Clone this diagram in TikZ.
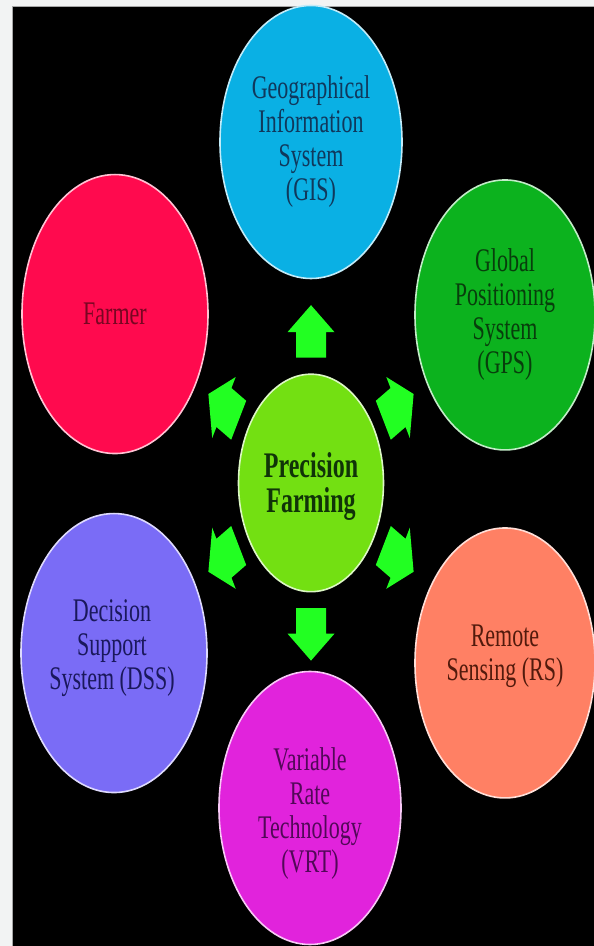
\documentclass[tikz,border=0pt]{standalone}
\usepackage{fontspec}
\setmainfont{Liberation Serif}
\usetikzlibrary{calc}
\definecolor{gisC}{RGB}{10,176,228}
\definecolor{gisT}{RGB}{16,56,92}
\definecolor{gpsC}{RGB}{12,178,30}
\definecolor{gpsT}{RGB}{8,62,12}
\definecolor{farC}{RGB}{255,10,78}
\definecolor{farT}{RGB}{120,6,34}
\definecolor{cenC}{RGB}{115,224,18}
\definecolor{cenT}{RGB}{16,52,8}
\definecolor{dssC}{RGB}{122,108,246}
\definecolor{dssT}{RGB}{26,24,92}
\definecolor{rsC}{RGB}{255,128,100}
\definecolor{rsT}{RGB}{82,26,12}
\definecolor{vrtC}{RGB}{225,35,220}
\definecolor{vrtT}{RGB}{82,8,88}
\definecolor{arrC}{RGB}{34,255,34}
\definecolor{pageC}{RGB}{242,243,243}
\begin{document}
\begin{tikzpicture}[x=1pt,y=1pt,yscale=1.5,
  bub/.style={circle, draw=#1!25!white, fill=#1,
    line width=1.6pt, inner sep=0pt, transform shape},
  txt/.style={text=#1, align=center, inner sep=0pt, transform shape,
    font=\fontsize{22}{22.7}\selectfont},
  blockarrow/.pic={\fill[arrC] (-17.5,-15) -- (-0.5,-15) -- (-0.5,-23.5)
    -- (17.5,0) -- (-0.5,23.5) -- (-0.5,15) -- (-17.5,15) -- cycle;}]
\useasboundingbox (0,0) rectangle (594,630.667);
\fill[pageC] (0,0) rectangle (594,630.667);
\fill[gray!70] (12,0) rectangle (594,626.6);
\fill[black] (13,0) rectangle (594,626);
% centre
\node[bub=cenC, minimum size=145pt] (pf) at (311,308.7) {};
\node[txt=cenT, font=\fontsize{24}{23.3}\selectfont\bfseries] (pft) at ($(pf.center)+(0,-2.5)$) {Precision\\Farming};
% arrows
\foreach \a in {90,30,-30,-90,-150,150}
  \pic[transform shape, rotate=\a] at ($(pf.center)+(\a:101)$) {blockarrow};
% outer circles
\node[bub=gisC, minimum size=182pt] (gis) at (311,536) {};
\node[txt=gisT] (gist) at (gis.center) {Geographical\\Information\\System\\(GIS)};
\node[bub=gpsC, minimum size=180pt] (gps) at (505,420.7) {};
\node[txt=gpsT] (gpst) at (gps.center) {Global\\Positioning\\System\\(GPS)};
\node[bub=farC, minimum size=186pt] (far) at (115,421.3) {};
\node[txt=farT] (fart) at (far.center) {Farmer};
\node[bub=dssC, minimum size=186pt] (dss) at (114,195.3) {};
\node[txt=dssT] (dsst) at ($(dss.center)+(-2,3.5)$) {Decision\\Support\\System (DSS)};
\node[bub=rsC, minimum size=180pt] (rs) at (505,188.7) {};
\node[txt=rsT] (rst) at ($(rs.center)+(0,4.5)$) {Remote\\Sensing (RS)};
\node[bub=vrtC, minimum size=182pt] (vrt) at (310,92) {};
\node[txt=vrtT] (vrtt) at ($(vrt.center)+(0,-4)$) {Variable\\Rate\\Technology\\(VRT)};
\end{tikzpicture}
\end{document}
